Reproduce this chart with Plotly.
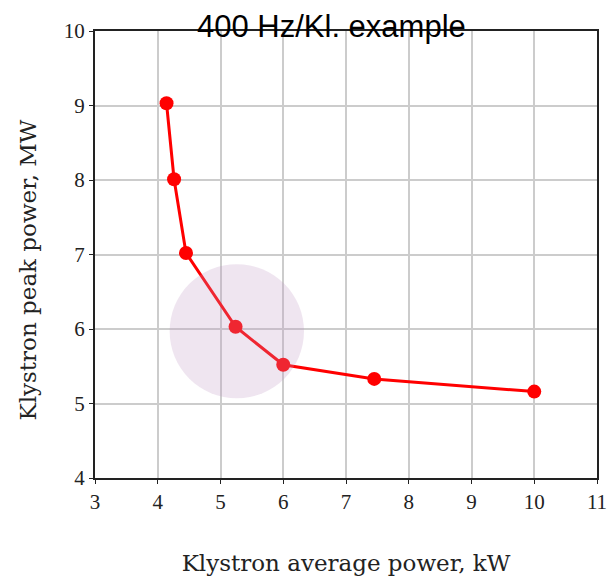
import plotly.graph_objects as go

# Klystron operating points
avg_power_kw = [4.14, 4.26, 4.45, 5.24, 6.0, 7.45, 10.0]
peak_power_mw = [9.03, 8.01, 7.02, 6.03, 5.52, 5.33, 5.16]

# Highlighted operating region (centre and radii in data units)
region_center = (5.26, 5.97)
region_radius = (1.07, 0.9)

x_ticks = [3, 4, 5, 6, 7, 8, 9, 10, 11]
y_ticks = [4, 5, 6, 7, 8, 9, 10]

serif = "Liberation Serif, Times New Roman, serif"
wide_serif = "DejaVu Serif, serif"

fig = go.Figure()
fig.add_trace(go.Scatter(
    x=avg_power_kw, y=peak_power_mw,
    mode="lines+markers",
    line=dict(color="#ff0000", width=3),
    marker=dict(color="#ff0000", size=14),
    showlegend=False,
))

cx, cy = region_center
rx, ry = region_radius
fig.add_shape(
    type="circle", xref="x", yref="y",
    x0=cx - rx, x1=cx + rx, y0=cy - ry, y1=cy + ry,
    fillcolor="rgba(190,150,195,0.25)", line=dict(width=0),
    layer="above",
)

axis_common = dict(
    showgrid=True, gridcolor="#cccccc", gridwidth=2,
    showline=True, linecolor="#222222", linewidth=2, mirror=True,
    ticks="outside", ticklen=4, tickcolor="#222222",
    zeroline=False, automargin=False,
    tickfont=dict(family=serif, size=21, color="#222222"),
)

fig.update_xaxes(
    range=[3, 11], tickvals=x_ticks,
    title=dict(text="Klystron average power, kW",
               font=dict(family=wide_serif, size=23, color="#222222"), standoff=43),
    **axis_common,
)
fig.update_yaxes(range=[4, 10], tickvals=y_ticks, **axis_common)

# Vertical axis title placed as a rotated annotation
fig.add_annotation(
    text="Klystron peak power, MW", xref="paper", yref="paper",
    x=0, y=0.5, xanchor="center", yanchor="middle", xshift=-68, yshift=-16,
    textangle=-90, showarrow=False,
    font=dict(family=wide_serif, size=23, color="#222222"),
)

fig.add_annotation(
    text="400 Hz/Kl. example", xref="paper", yref="paper",
    x=0.472, y=1.0, xanchor="center", yanchor="middle", yshift=5,
    showarrow=False,
    font=dict(family="Liberation Sans, Arial, sans-serif", size=31, color="#000000"),
)

fig.update_layout(
    width=609, height=576,
    margin=dict(l=95, r=12, t=31, b=98),
    paper_bgcolor="white", plot_bgcolor="white",
)

fig.write_html("out.html")
